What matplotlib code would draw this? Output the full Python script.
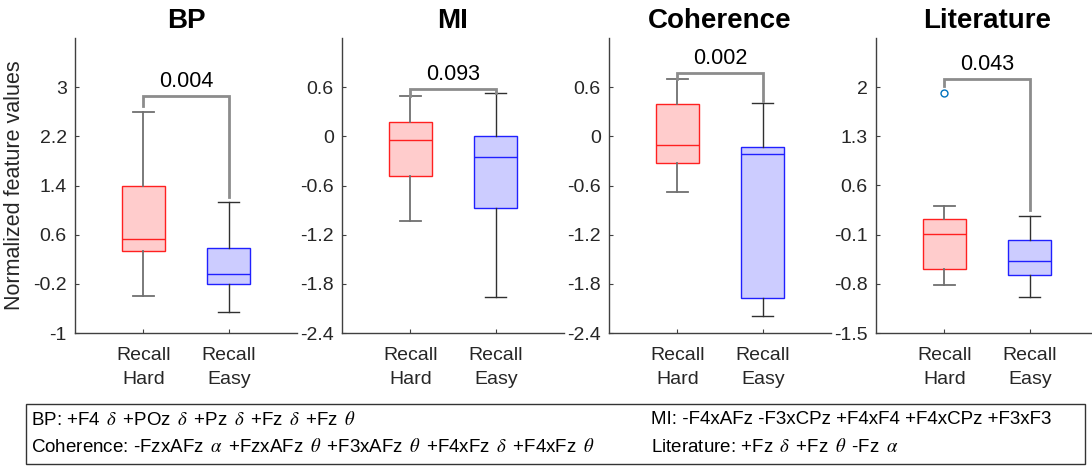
import numpy as np
import matplotlib
matplotlib.use('Agg')
import matplotlib.pyplot as plt
from matplotlib.patches import Rectangle

plt.rcParams['font.family'] = ['Liberation Sans', 'DejaVu Sans']
plt.rcParams['mathtext.fontset'] = 'stix'
plt.rcParams['axes.unicode_minus'] = False

titles = ['BP', 'MI', 'Coherence', 'Literature']
groups = ['Recall\nHard', 'Recall\nEasy']

# box stats per feature set: lower whisker, q1, median, q3, upper whisker
hard_whislo = [-0.39, -1.03, -0.68, -0.81]
hard_q1 = [0.33, -0.48, -0.32, -0.59]
hard_med = [0.53, -0.05, -0.11, -0.09]
hard_q3 = [1.39, 0.18, 0.40, 0.12]
hard_whishi = [2.59, 0.49, 0.70, 0.31]
hard_fliers = [[], [], [], [1.92]]

easy_whislo = [-0.66, -1.96, -2.19, -0.99]
easy_q1 = [-0.21, -0.88, -1.97, -0.68]
easy_med = [-0.04, -0.25, -0.21, -0.47]
easy_q3 = [0.39, 0.00, -0.13, -0.17]
easy_whishi = [1.13, 0.53, 0.41, 0.17]

p_values = ['0.004', '0.093', '0.002', '0.043']
bracket_y = [2.86, 0.58, 0.77, 2.12]
bracket_left = [2.69, 0.49, 0.70, 2.01]
bracket_right = [1.22, 0.53, 0.43, 0.25]

# y axis: lower limit and tick step
y_lo = [-1.0, -2.4, -2.4, -1.5]
y_step = [0.8, 0.6, 0.6, 0.7]

d, t, a = r'$\,\delta\,$', r'$\,\theta\,$', r'$\,\alpha\,$'
legend_left = ['BP: +F4 ' + d + ' +POz ' + d + ' +Pz ' + d + ' +Fz ' + d + ' +Fz ' + t,
               'Coherence: -FzxAFz ' + a + ' +FzxAFz ' + t + ' +F3xAFz ' + t
               + ' +F4xFz ' + d + ' +F4xFz ' + t]
legend_right = ['MI: -F4xAFz -F3xCPz +F4xF4 +F4xCPz +F3xF3',
                'Literature: +Fz ' + d + ' +Fz ' + t + ' -Fz ' + a]

W, H = 1092, 466
fig = plt.figure(figsize=(W / 100, H / 100), dpi=100)

axis_col = '#404040'
lefts = [75, 342, 609, 876]

for i in range(4):
    ax = fig.add_axes([lefts[i] / W, (H - 333) / H, 222 / W, 295 / H])
    stats = [
        dict(whislo=hard_whislo[i], q1=hard_q1[i], med=hard_med[i], q3=hard_q3[i],
             whishi=hard_whishi[i], fliers=hard_fliers[i]),
        dict(whislo=easy_whislo[i], q1=easy_q1[i], med=easy_med[i], q3=easy_q3[i],
             whishi=easy_whishi[i], fliers=[]),
    ]
    bp = ax.bxp(stats, positions=[1, 2], widths=0.5, capwidths=0.25,
                patch_artist=True, showfliers=True,
                flierprops=dict(marker='o', markerfacecolor='white',
                                markeredgecolor='#0072BD', markersize=5,
                                markeredgewidth=1.0))
    styles = [('#ffcccc', '#ff2020', '#707070', 1.3),
              ('#ccccff', '#2020ff', '#303030', 1.0)]
    for j, (fc, ec, wc, wlw) in enumerate(styles):
        bp['boxes'][j].set(facecolor=fc, edgecolor=ec, linewidth=1.0)
        bp['medians'][j].set(color=ec, linewidth=1.0)
        for k in (2 * j, 2 * j + 1):
            bp['whiskers'][k].set(color=wc, linewidth=wlw)
            bp['caps'][k].set(color=wc, linewidth=wlw)

    # significance bracket
    ax.plot([1, 1, 2, 2], [bracket_left[i], bracket_y[i], bracket_y[i], bracket_right[i]],
            color='#8c8c8c', linewidth=2.0, solid_joinstyle='miter')
    ax.annotate(p_values[i], (1.5, bracket_y[i]), xytext=(0, 3),
                textcoords='offset points', ha='center', va='bottom', fontsize=15.5)

    lo, st = y_lo[i], y_step[i]
    ticks = np.round(lo + st * np.arange(6), 2)
    ax.set_ylim(lo, lo + 6 * st)
    ax.set_yticks(ticks)
    ax.set_yticklabels(['%g' % v for v in ticks])
    ax.set_xlim(0.2, 2.8)
    ax.set_xticks([1, 2])
    ax.set_xticklabels(groups, linespacing=1.55)

    ax.set_title(titles[i], fontsize=20, fontweight='bold', pad=7)
    for s in ('top', 'right'):
        ax.spines[s].set_visible(False)
    for s in ('left', 'bottom'):
        ax.spines[s].set_color(axis_col)
        ax.spines[s].set_linewidth(1.0)
    ax.tick_params(direction='in', length=3, width=0.8, color=axis_col,
                   labelsize=14, labelcolor='#262626', pad=6)
    ax.tick_params(axis='x', pad=10)
    if i == 0:
        ax.set_ylabel('Normalized feature values', fontsize=15.5, color='#262626', labelpad=6)

# feature description box
fig.add_artist(Rectangle((26 / W, (H - 464) / H), (1085 - 26) / W, (464 - 404) / H,
                         transform=fig.transFigure, fill=False, edgecolor='#333333',
                         linewidth=1.0))
row_y = [420, 447]
for r in range(2):
    fig.text(31 / W, 1 - row_y[r] / H, legend_left[r], fontsize=13.5, va='center', ha='left')
    fig.text(651 / W, 1 - row_y[r] / H, legend_right[r], fontsize=13.5, va='center', ha='left')

fig.savefig('out.png', dpi=100)
